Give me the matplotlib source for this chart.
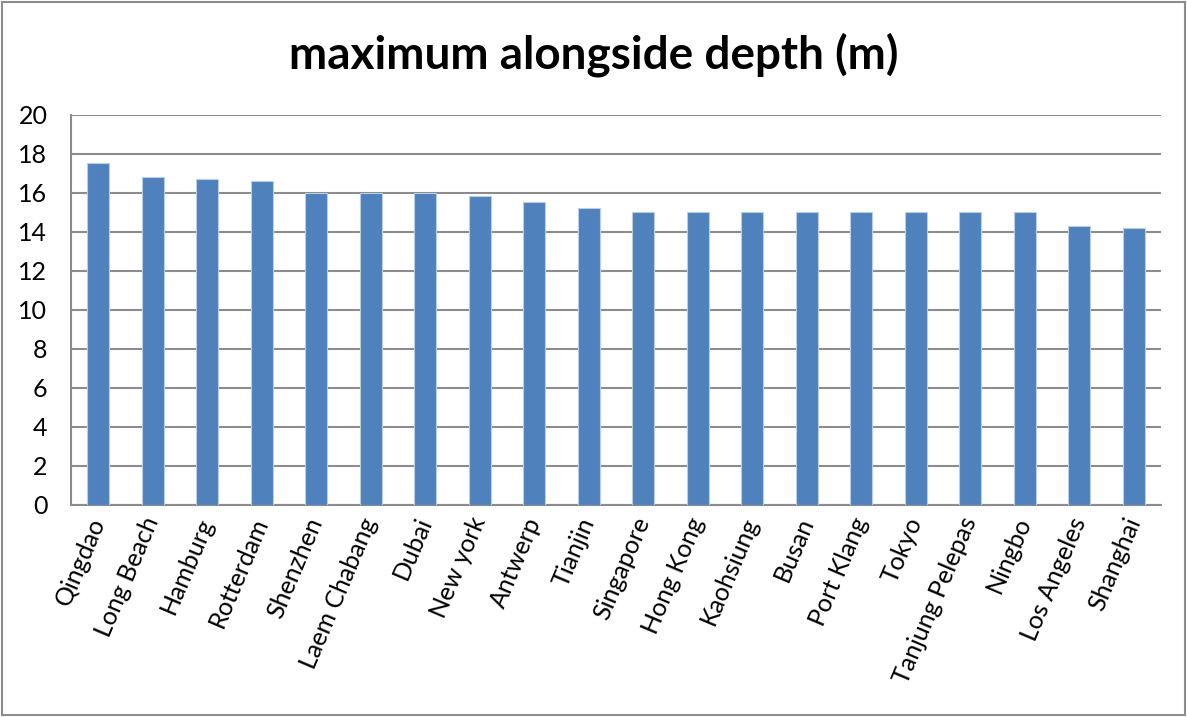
import matplotlib.pyplot as plt
from matplotlib.patches import Rectangle

ports = ['Qingdao', 'Long Beach', 'Hamburg', 'Rotterdam', 'Shenzhen',
         'Laem Chabang', 'Dubai', 'New york', 'Antwerp', 'Tianjin',
         'Singapore', 'Hong Kong', 'Kaohsiung', 'Busan', 'Port Klang',
         'Tokyo', 'Tanjung Pelepas', 'Ningbo', 'Los Angeles', 'Shanghai']
depth = [17.5, 16.8, 16.7, 16.6, 16.0, 16.0, 16.0, 15.8, 15.5, 15.2,
         15.0, 15.0, 15.0, 15.0, 15.0, 15.0, 15.0, 15.0, 14.3, 14.2]
yticks = [0, 2, 4, 6, 8, 10, 12, 14, 16, 18, 20]

plt.rcParams['font.family'] = ['Lato', 'DejaVu Sans']

fig = plt.figure(figsize=(11.87, 7.17), dpi=100)
ax = fig.add_axes([71 / 1187, 1 - 504.5 / 717, 1090 / 1187, 390 / 717])

x = range(len(ports))
ax.bar(x, depth, width=0.4, color='#4F81BD', edgecolor='#B9CDE5',
       linewidth=0.8, zorder=3)

ax.set_xlim(-0.5, len(ports) - 0.5)
ax.set_ylim(0, 20)
ax.set_yticks(yticks)
ax.yaxis.grid(True, color='#8C8C8C', linewidth=1.5, zorder=0)
ax.tick_params(axis='y', length=0, labelsize=18, pad=17)
ax.tick_params(axis='x', length=0, labelsize=18, pad=10)
ax.set_xticks(list(x))
ax.set_xticklabels(ports, rotation=67, ha='right', va='center',
                   rotation_mode='anchor')

for side in ['top', 'right']:
    ax.spines[side].set_visible(False)
for side in ['left', 'bottom']:
    ax.spines[side].set_color('#8C8C8C')
    ax.spines[side].set_linewidth(1.5)

fig.text(0.5, 1 - 55 / 717, 'maximum alongside depth (m)', ha='center',
         va='center', fontsize=33, fontweight='bold')

# outer frame around the chart area
fig.patches.append(Rectangle((0.002, 0.003), 0.996, 0.994, transform=fig.transFigure,
                             fill=False, edgecolor='#8C8C8C', linewidth=1.5))

fig.savefig('out.png', dpi=100)
